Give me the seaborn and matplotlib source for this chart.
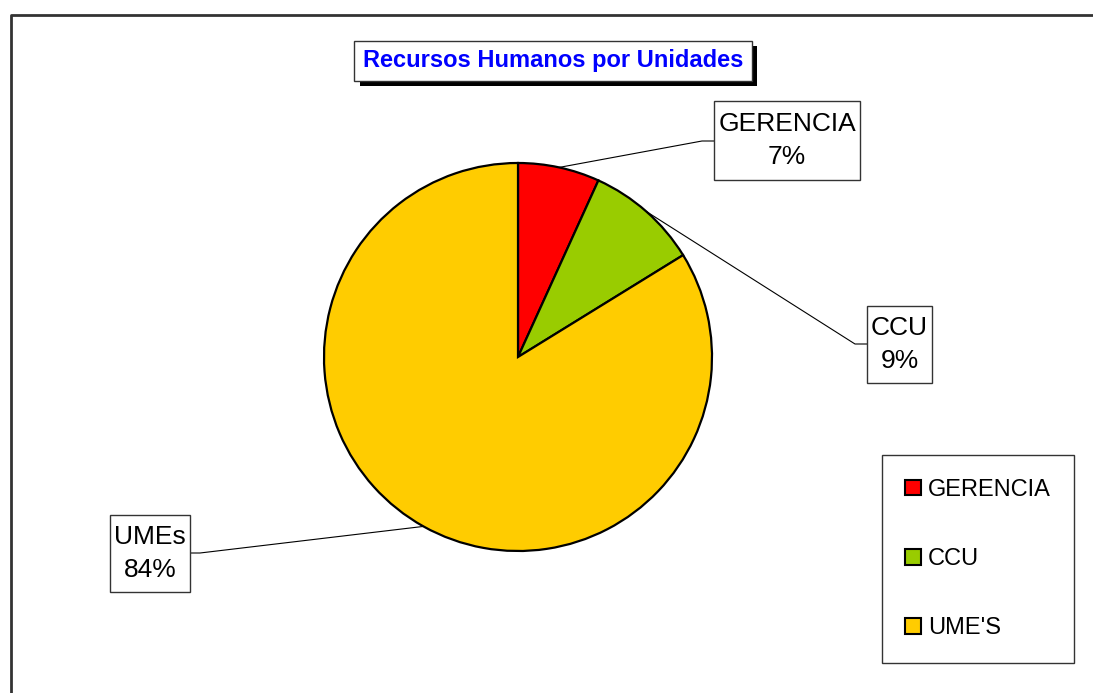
import numpy as np
import matplotlib
matplotlib.use("Agg")
import matplotlib.pyplot as plt
import matplotlib.patheffects as pe
from matplotlib.lines import Line2D
from matplotlib.patches import Patch, Rectangle
import seaborn as sns

# data
units = ["GERENCIA", "CCU", "UME'S"]
slice_labels = ["GERENCIA", "CCU", "UMEs"]
shares = [6.8, 9.4, 83.8]
pct_text = ["7%", "9%", "84%"]
colors = ["#FF0000", "#99CC00", "#FFCC00"]

sns.set_style("white")
plt.rcParams["font.family"] = ["Liberation Sans", "DejaVu Sans"]
plt.rcParams["text.color"] = "black"

W, H = 1093, 693
CX, CY, R = 518, 357, 194


def to_data(px, py):
    # pixel position -> data coords (pie radius = 1)
    return (px - CX) / R, (CY - py) / R


fig = plt.figure(figsize=(W / 100, H / 100), dpi=100)
ax = fig.add_axes([0, 0, 1, 1])

wedges, _ = ax.pie(shares, colors=colors, startangle=90, counterclock=False,
                   radius=1, wedgeprops=dict(edgecolor="black", linewidth=1.6))
ax.set_xlim(-CX / R, (W - CX) / R)
ax.set_ylim(-(H - CY) / R, CY / R)
ax.set_aspect("auto")
ax.axis("off")

# label boxes in pixels (left, top, right, bottom), elbow of the leader line
boxes = [(714, 101, 860, 180), (867, 306, 932, 383), (110, 515, 190, 592)]
elbows = [((702, 141), (714, 141)), ((855, 344), (867, 344)), ((200, 553), (190, 553))]

for w, name, pct, box, (e1, e2) in zip(wedges, slice_labels, pct_text, boxes, elbows):
    mid = np.deg2rad((w.theta1 + w.theta2) / 2)
    start = (np.cos(mid), np.sin(mid))
    p1 = to_data(*e1)
    p2 = to_data(*e2)
    ax.plot([start[0], p1[0], p2[0]], [start[1], p1[1], p2[1]],
            color="black", lw=0.8, zorder=1)
    x0, y1 = to_data(box[0], box[3])
    x1, y0 = to_data(box[2], box[1])
    ax.add_patch(Rectangle((x0, y1), x1 - x0, y0 - y1, fc="white", ec="#333333",
                           lw=1, zorder=4))
    tx, ty = to_data((box[0] + box[2]) / 2, (box[1] + box[3]) / 2)
    ax.text(tx, ty, f"{name}\n{pct}", ha="center", va="center", fontsize=19,
            linespacing=1.45, zorder=5)

# title with drop shadow
tx, ty = to_data(553, 61)
title = ax.text(tx, ty, "Recursos Humanos por Unidades", ha="center", va="center",
                fontsize=17, fontweight="bold", color="#0000FF", zorder=6,
                bbox=dict(boxstyle="square,pad=0.36", fc="white", ec="#333333", lw=1))
title.get_bbox_patch().set_path_effects([
    pe.SimplePatchShadow(offset=(3.8, -3.8), shadow_rgbFace="black", alpha=1),
    pe.Normal()])

# legend
handles = [Patch(facecolor=c, edgecolor="black", lw=1.5) for c in colors]
lx, ly = to_data(978, 559)
ax.legend(handles, units, loc="center", bbox_to_anchor=(lx, ly),
          bbox_transform=ax.transData, fontsize=17, frameon=True, fancybox=False,
          edgecolor="#333333", framealpha=1, labelspacing=2.0, borderpad=1.0,
          handlelength=0.65, handleheight=0.65, handletextpad=0.3)

# chart area border (left and top only visible)
fig.add_artist(Line2D([11 / W, 11 / W, 1], [0, 1 - 15 / H, 1 - 15 / H],
                      transform=fig.transFigure, color="#333333", lw=2))

fig.savefig("out.png", dpi=100, facecolor="white")
